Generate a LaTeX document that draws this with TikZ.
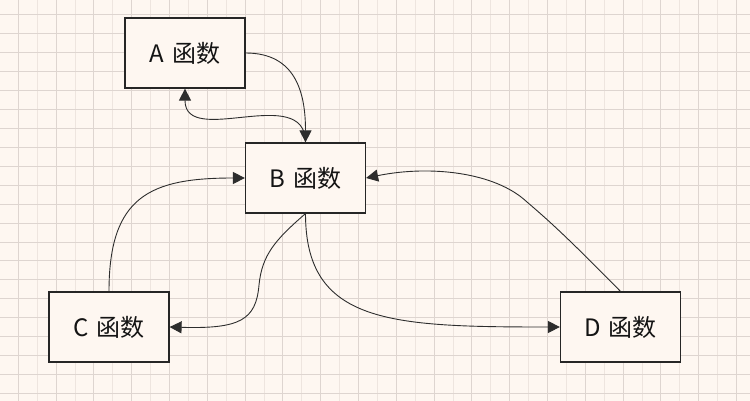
\documentclass[tikz,border=0pt]{standalone}
\usepackage{fontspec}
\setmainfont{Noto Sans CJK SC}
\usetikzlibrary{arrows.meta}

\definecolor{paper}{RGB}{254,247,241}
\definecolor{gridmajor}{RGB}{222,213,208}
\definecolor{gridminor}{RGB}{238,229,223}
\definecolor{boxline}{RGB}{38,38,38}
\definecolor{wire}{RGB}{45,45,45}
\definecolor{ink}{RGB}{20,20,20}

\newcommand{\fnlabel}[1]{#1\hspace{0.32em}函数}

\begin{document}
\begin{tikzpicture}[x=1pt,y=-1pt,
  fnbox/.style={draw=boxline,line width=1.2pt,fill=paper,
    minimum width=120pt,minimum height=70pt,inner sep=0pt,
    font=\fontsize{24pt}{28pt}\selectfont,text=ink},
  link/.style={draw=wire,line width=0.9pt,
    -{Triangle[length=12pt,width=12pt]}}]

% paper and grid
\fill[paper] (0,0) rectangle (750,401);
\useasboundingbox (0,0) rectangle (750,401);
\foreach \k in {0,...,38}{
  \pgfmathsetmacro{\gx}{18.3+18.9*\k}
  \ifodd\k
    \draw[gridminor,line width=1pt] (\gx,0) -- (\gx,401);
  \else
    \draw[gridmajor,line width=1pt] (\gx,0) -- (\gx,401);
  \fi
}
\foreach \k in {0,...,20}{
  \pgfmathsetmacro{\gy}{15+18.92*\k}
  \draw[gridmajor,line width=1pt] (0,\gy) -- (750,\gy);
}

% function boxes
\node[fnbox] (A) at (185,53)    {\fnlabel{A}};
\node[fnbox] (B) at (305.5,178) {\fnlabel{B}};
\node[fnbox] (C) at (109,327)   {\fnlabel{C}};
\node[fnbox] (D) at (620.5,327) {\fnlabel{D}};

% calls between the functions
\draw[link] (A.east) .. controls +(50,0) and +(0,-50) .. (B.north);
\draw[link] (B.north) .. controls +(0,-60) and +(0,60) .. (A.south);
\draw[link] (C.north) .. controls +(0,-95) and +(-95,0) .. (B.west);
\draw[link] (B.south) .. controls (275,240) and (262,255) .. (259,285)
                      .. controls (256,320) and (240,329) .. (C.east);
\draw[link] (B.south) .. controls +(0,110) and +(-170,0) .. (D.west);
\draw[link] (D.north) .. controls (565,235) and (548,220) .. (527,202)
                      .. controls (495,172) and (430,165) .. (B.east);
\end{tikzpicture}
\end{document}
